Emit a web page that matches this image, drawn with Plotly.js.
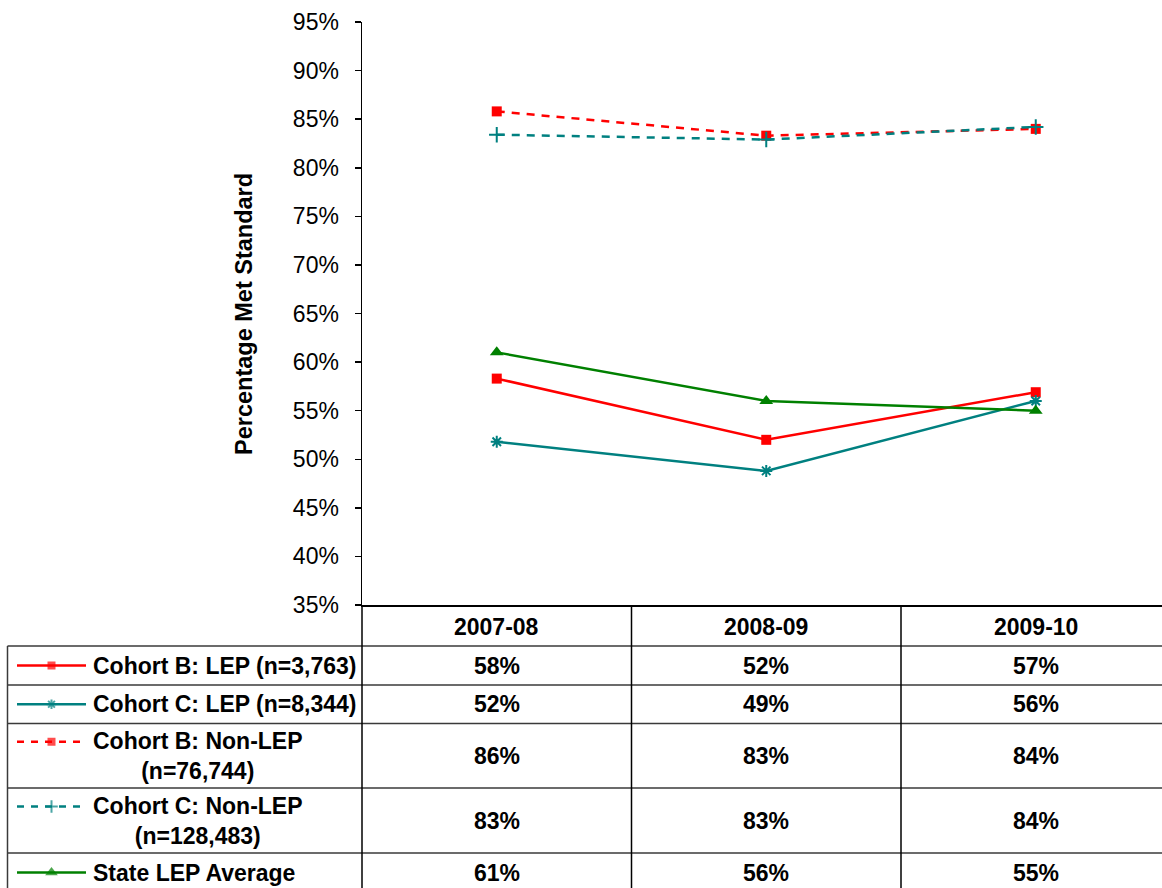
<!DOCTYPE html>
<html>
<head>
<meta charset="utf-8">
<script src="https://cdn.plot.ly/plotly-3.0.1.min.js"></script>
<style>
  html, body { margin: 0; padding: 0; background: #fff; overflow: hidden; }
  #grafico { width: 1162px; height: 888px; }
</style>
</head>
<body>
<div id="grafico"></div>
<script>
// Dados do gráfico
const anos = ['2007-08', '2008-09', '2009-10'];
const coorteBLep = [58.3, 52.0, 56.9];
const coorteCLep = [51.8, 48.8, 56.0];
const coorteBNaoLep = [85.8, 83.3, 84.0];
const coorteCNaoLep = [83.4, 82.9, 84.2];
const mediaEstadual = [61.0, 56.0, 55.0];
const rotulos = [
    'Cohort B: LEP (n=3,763)',
    'Cohort C: LEP (n=8,344)',
    'Cohort B: Non-LEP<br>(n=76,744)',
    'Cohort C: Non-LEP<br>(n=128,483)',
    'State LEP Average'
];

// Dimensões da figura (px)
const W = 1162, H = 888;
const px = v => v / W;
const py = v => 1 - v / H;
const fonte = 'Arial, "Liberation Sans", sans-serif';
const tamTabela = 23;

// Estilo de cada série
const series = [
    { y: coorteBLep, cor: '#FF0000', dash: 'solid', simbolo: 'square', tam: 10, tamLeg: 8 },
    { y: coorteCLep, cor: '#008080', dash: 'solid', simbolo: 'asterisk-open', tam: 10, tamLeg: 8 },
    { y: coorteBNaoLep, cor: '#FF0000', dash: '8px,7px', simbolo: 'square', tam: 10, tamLeg: 8 },
    { y: coorteCNaoLep, cor: '#008080', dash: '8px,7px', simbolo: 'cross-thin-open', tam: 11, tamLeg: 9 },
    { y: mediaEstadual, cor: '#008000', dash: 'solid', simbolo: 'triangle-up', tam: 12, tamLeg: 11 }
];

// Linhas da tabela: topo de cada linha (px)
const topoCabecalho = 605;
const alturas = [41, 39, 38.5, 64.5, 65, 39];
const topos = [topoCabecalho];
alturas.forEach(h => topos.push(topos[topos.length - 1] + h));
const linhasTexto = rotulos.map(r => r.split('<br>').length);

const eixoEsq = 362;
const larguraCol = 269.5;

const traces = [];
const shapes = [];
const annotations = [];

// Linhas do gráfico
series.forEach(function(s) {
    traces.push({
        type: 'scatter',
        mode: 'lines+markers',
        x: anos,
        y: s.y,
        xaxis: 'x',
        yaxis: 'y',
        line: { color: s.cor, width: 2.5, dash: s.dash },
        marker: {
            symbol: s.simbolo,
            size: s.tam,
            color: s.cor,
            line: { color: s.cor, width: s.simbolo.endsWith('open') ? 2 : 0 }
        },
        cliponaxis: false,
        hoverinfo: 'skip',
        showlegend: false
    });
});

// Amostras da legenda dentro da tabela (eixo auxiliar em px)
series.forEach(function(s, i) {
    const topo = topos[i + 1];
    const centro = topo + alturas[i + 1] / 2;
    const yy = linhasTexto[i] > 1 ? centro - 14 : centro;
    traces.push({
        type: 'scatter',
        mode: 'lines+markers',
        x: [0, 1, 2],
        y: [yy, yy, yy],
        xaxis: 'x2',
        yaxis: 'y2',
        line: { color: s.cor, width: 2.5, dash: s.dash === 'solid' ? 'solid' : '7px,7px' },
        marker: {
            symbol: s.simbolo,
            size: [0, s.tamLeg, 0],
            color: s.cor,
            line: { color: s.cor, width: s.simbolo.endsWith('open') ? 2 : 0 }
        },
        cliponaxis: false,
        hoverinfo: 'skip',
        showlegend: false
    });

    // Rótulo da série
    annotations.push({
        xref: 'paper', yref: 'paper',
        x: px(91), y: py(centro),
        xanchor: 'left', yanchor: 'middle',
        align: 'center',
        text: rotulos[i],
        showarrow: false,
        font: { family: fonte, size: tamTabela, color: '#000', weight: 'bold' }
    });

    // Valores por ano
    s.y.forEach(function(v, j) {
        annotations.push({
            xref: 'x', yref: 'paper',
            x: j, y: py(centro),
            xanchor: 'center', yanchor: 'middle',
            text: Math.round(v) + '%',
            showarrow: false,
            font: { family: fonte, size: tamTabela, color: '#000', weight: 'bold' }
        });
    });
});

// Cabeçalho com os anos
anos.forEach(function(a, j) {
    annotations.push({
        xref: 'x', yref: 'paper',
        x: j, y: py(topoCabecalho + alturas[0] / 2 + 1),
        xanchor: 'center', yanchor: 'middle',
        text: a,
        showarrow: false,
        font: { family: fonte, size: tamTabela, color: '#000', weight: 'bold' }
    });
});

// Título do eixo Y
annotations.push({
    xref: 'paper', yref: 'paper',
    x: px(244), y: py(314),
    xanchor: 'center', yanchor: 'middle',
    textangle: -90,
    text: 'Percentage Met Standard',
    showarrow: false,
    font: { family: fonte, size: 23.5, color: '#000', weight: 'bold' }
});

// Bordas da tabela
const corBorda = '#3a3a3a';
for (let k = 1; k < topos.length - 1; k++) {
    shapes.push({
        type: 'line', xref: 'paper', yref: 'paper',
        x0: px(7.5), x1: 1, y0: py(topos[k]), y1: py(topos[k]),
        line: { color: corBorda, width: 1.5 }
    });
}
shapes.push({
    type: 'line', xref: 'paper', yref: 'paper',
    x0: px(7.5), x1: px(7.5), y0: py(topos[1]), y1: 0,
    line: { color: corBorda, width: 1.5 }
});
shapes.push({
    type: 'line', xref: 'paper', yref: 'paper',
    x0: px(eixoEsq), x1: px(eixoEsq), y0: py(topoCabecalho), y1: 0,
    line: { color: '#000', width: 1.5 }
});
[0.5, 1.5].forEach(function(xc) {
    shapes.push({
        type: 'line', xref: 'x', yref: 'paper',
        x0: xc, x1: xc, y0: py(topoCabecalho), y1: 0,
        line: { color: '#000', width: 1.5 }
    });
});

const layout = {
    width: W,
    height: H,
    margin: { l: 0, r: 0, t: 0, b: 0 },
    paper_bgcolor: '#fff',
    plot_bgcolor: 'rgba(0,0,0,0)',
    showlegend: false,
    xaxis: {
        type: 'category',
        domain: [px(eixoEsq), 1],
        range: [-0.5, -0.5 + (W - eixoEsq) / larguraCol],
        showticklabels: false,
        ticks: '',
        showgrid: false,
        zeroline: false,
        showline: true,
        linecolor: '#000',
        linewidth: 1.5,
        fixedrange: true
    },
    yaxis: {
        domain: [py(topoCabecalho), py(22)],
        range: [35, 95],
        dtick: 5,
        tick0: 35,
        ticksuffix: '%',
        ticks: 'outside',
        ticklen: 6,
        tickwidth: 1.5,
        tickcolor: '#000',
        showline: true,
        linecolor: '#000',
        linewidth: 1.5,
        showgrid: false,
        zeroline: false,
        ticklabelstandoff: 11,
        tickfont: { family: fonte, size: 23, color: '#000' },
        fixedrange: true
    },
    xaxis2: {
        domain: [px(17), px(86)],
        range: [0, 2],
        anchor: 'y2',
        visible: false,
        fixedrange: true
    },
    yaxis2: {
        domain: [0, 1],
        range: [H, 0],
        anchor: 'x2',
        visible: false,
        fixedrange: true
    },
    shapes: shapes,
    annotations: annotations
};

Plotly.newPlot('grafico', traces, layout, { displayModeBar: false, staticPlot: true });
</script>
</body>
</html>
